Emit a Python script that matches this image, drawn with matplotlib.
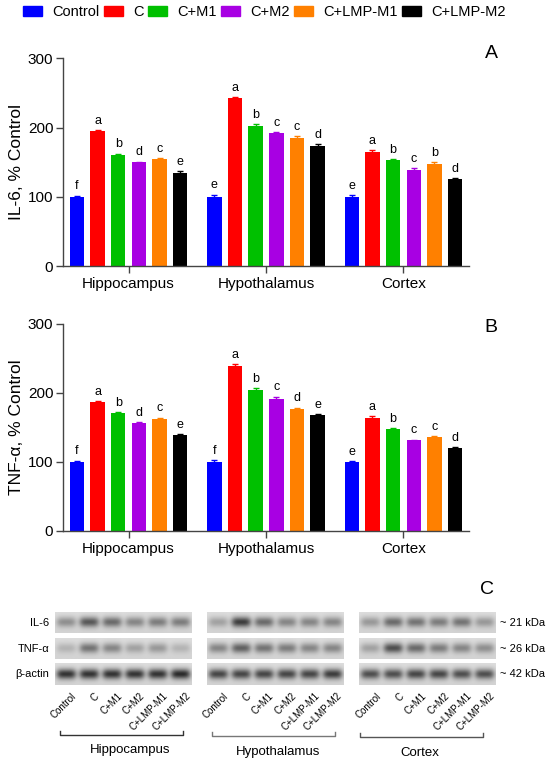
import numpy as np
import matplotlib.pyplot as plt
from matplotlib.patches import Patch
from matplotlib.lines import Line2D

plt.rcParams['font.family'] = ['Liberation Sans', 'DejaVu Sans']

# ---- data ----
regions = ['Hippocampus', 'Hypothalamus', 'Cortex']
treatments = ['Control', 'C', 'C+M1', 'C+M2', 'C+LMP-M1', 'C+LMP-M2']
colors = ['#0000ff', '#ff0000', '#00c000', '#a800e3', '#ff8000', '#000000']

il6_mean = [[100, 194.5, 160.5, 149.5, 154.5, 135],
            [100, 242, 202, 191.5, 185, 173],
            [100, 165, 152.5, 139, 148, 125.5]]
il6_err = [[1.5, 1.5, 1.5, 1, 1.5, 1.5],
           [3, 2, 2.5, 2, 2.5, 2.5],
           [2, 2.5, 2, 2.5, 1.5, 1.5]]
il6_letters = [['f', 'a', 'b', 'd', 'c', 'e'],
               ['e', 'a', 'b', 'c', 'c', 'd'],
               ['e', 'a', 'b', 'c', 'b', 'd']]

tnf_mean = [[100, 186.5, 170, 156.5, 161.5, 138.5],
            [100, 238, 204, 191, 176, 167],
            [100, 164, 147, 131, 135.5, 119.5]]
tnf_err = [[1.5, 1.5, 1.5, 1, 2, 1.5],
           [2, 3, 2.5, 3, 2.5, 2],
           [1, 2, 1.5, 1, 1.5, 1.5]]
tnf_letters = [['f', 'a', 'b', 'd', 'c', 'e'],
               ['f', 'a', 'b', 'c', 'd', 'e'],
               ['e', 'a', 'b', 'c', 'c', 'd']]

# western blot band darkness (0 = none, 1 = very dark), per region, per protein
blot_proteins = ['IL-6', 'TNF-α', 'β-actin']
blot_kda = ['~ 21 kDa', '~ 26 kDa', '~ 42 kDa']
band_hippo = [[0.40, 0.70, 0.60, 0.45, 0.50, 0.50],
              [0.20, 0.55, 0.45, 0.30, 0.35, 0.20],
              [0.90, 0.90, 0.90, 0.90, 0.90, 0.95]]
band_hypo = [[0.30, 0.85, 0.60, 0.45, 0.45, 0.45],
             [0.45, 0.65, 0.55, 0.50, 0.45, 0.45],
             [0.80, 0.80, 0.80, 0.80, 0.80, 0.85]]
band_cortex = [[0.35, 0.60, 0.55, 0.50, 0.55, 0.35],
               [0.30, 0.75, 0.60, 0.50, 0.45, 0.40],
               [0.75, 0.75, 0.80, 0.80, 0.75, 0.75]]
bands = [band_hippo, band_hypo, band_cortex]

W, H = 550, 764
fig = plt.figure(figsize=(W / 100, H / 100), dpi=100)


def px_axes(x0, y0, x1, y1):
    return fig.add_axes([x0 / W, 1 - y1 / H, (x1 - x0) / W, (y1 - y0) / H])


def px_text(x, y, s, **kw):
    fig.text(x / W, 1 - y / H, s, **kw)


GAP = 6.65


def draw_bars(ax, means, errs, letters, ylabel):
    for g in range(3):
        for i in range(6):
            x = g * GAP + i
            ax.bar(x, means[g][i], width=0.7, color=colors[i],
                   yerr=errs[g][i], ecolor=colors[i], capsize=2.5,
                   error_kw=dict(lw=1, capthick=1))
            ax.annotate(letters[g][i], (x, means[g][i] + errs[g][i]),
                        xytext=(0, 2.5), textcoords='offset points',
                        ha='center', va='bottom', fontsize=9)
    ax.set_xlim(-0.67, 2 * GAP + 5 + 0.67)
    ax.set_ylim(0, 300)
    ax.set_yticks([0, 100, 200, 300])
    ax.set_xticks([g * GAP + 2.5 for g in range(3)])
    ax.set_xticklabels(regions, fontsize=11)
    ax.tick_params(axis='y', labelsize=11, length=5, width=1, color='#444444', pad=2)
    ax.tick_params(axis='x', length=5, width=1, color='#444444', pad=3)
    for s in ['top', 'right']:
        ax.spines[s].set_visible(False)
    for s in ['left', 'bottom']:
        ax.spines[s].set_color('#444444')
        ax.spines[s].set_linewidth(1)
    ax.set_ylabel(ylabel, fontsize=12.5, labelpad=3)


axA = px_axes(63, 58.3, 469, 266)
draw_bars(axA, il6_mean, il6_err, il6_letters, 'IL-6, % Control')
axB = px_axes(63, 323.7, 469, 530.7)
draw_bars(axB, tnf_mean, tnf_err, tnf_letters, 'TNF-α, % Control')

px_text(491, 53, 'A', fontsize=14, ha='center', va='center')
px_text(491, 327, 'B', fontsize=14, ha='center', va='center')
px_text(487, 589, 'C', fontsize=14, ha='center', va='center')

handles = [Patch(color=c) for c in colors]
fig.legend(handles, treatments, loc='upper left', bbox_to_anchor=(23 / W, 1 - 5 / H),
           ncol=6, frameon=False, fontsize=10.5, handlelength=1.3, handleheight=0.62,
           handletextpad=0.7, columnspacing=0.3, borderaxespad=0, borderpad=0)

# ---- panel C: western blots ----
blot_x = [(55, 191.7), (206.7, 343.3), (359.3, 495.7)]
rows_y = [(611.7, 633.3), (637.7, 659.3), (663.3, 685)]
nx, ny = 140, 24
xx = np.arange(nx)[None, :] + 0.5
yy = np.arange(ny)[:, None] + 0.5
lane_w = nx / 6
for r in range(3):
    x0, x1 = blot_x[r]
    for p in range(3):
        y0, y1 = rows_y[p]
        img = np.full((ny, nx), 0.87) - 0.04 * (yy / ny) + 0 * xx
        for i, amp in enumerate(bands[r][p]):
            cx = (i + 0.5) * lane_w
            prof = np.exp(-((xx - cx) / (lane_w * 0.43)) ** 4) * \
                np.exp(-((yy - ny * 0.5) / (ny * 0.23)) ** 2)
            img = img - amp * 0.72 * prof
        ax = px_axes(x0, y0, x1, y1)
        ax.imshow(img, cmap='gray', vmin=0, vmax=1, aspect='auto',
                  interpolation='bilinear')
        ax.axis('off')

for p in range(3):
    yc = (rows_y[p][0] + rows_y[p][1]) / 2
    px_text(49, yc, blot_proteins[p], fontsize=8, ha='right', va='center')
    px_text(500, yc, blot_kda[p], fontsize=8, ha='left', va='center')

for r in range(3):
    x0, x1 = blot_x[r]
    lw_ = (x1 - x0) / 6
    for i, t in enumerate(treatments):
        px_text(x0 + (i + 0.5) * lw_ + 5, 691, t, fontsize=7, rotation=45,
                rotation_mode='anchor', ha='right', va='top')

brackets = [(60, 183, 735), (211.7, 335, 736), (360, 483, 736.7)]
name_pos = [(130, 750), (278, 751.7), (420, 753)]
bracket_col = ['#333333', '#777777', '#555555']
for r in range(3):
    bx0, bx1, by = brackets[r]
    fig.add_artist(Line2D([bx0 / W, bx0 / W, bx1 / W, bx1 / W],
                          [1 - (by - 4) / H, 1 - by / H, 1 - by / H, 1 - (by - 4) / H],
                          color=bracket_col[r], lw=1))
    px_text(name_pos[r][0], name_pos[r][1], regions[r], fontsize=9.5,
            ha='center', va='center')

fig.savefig('out.png', dpi=100)
